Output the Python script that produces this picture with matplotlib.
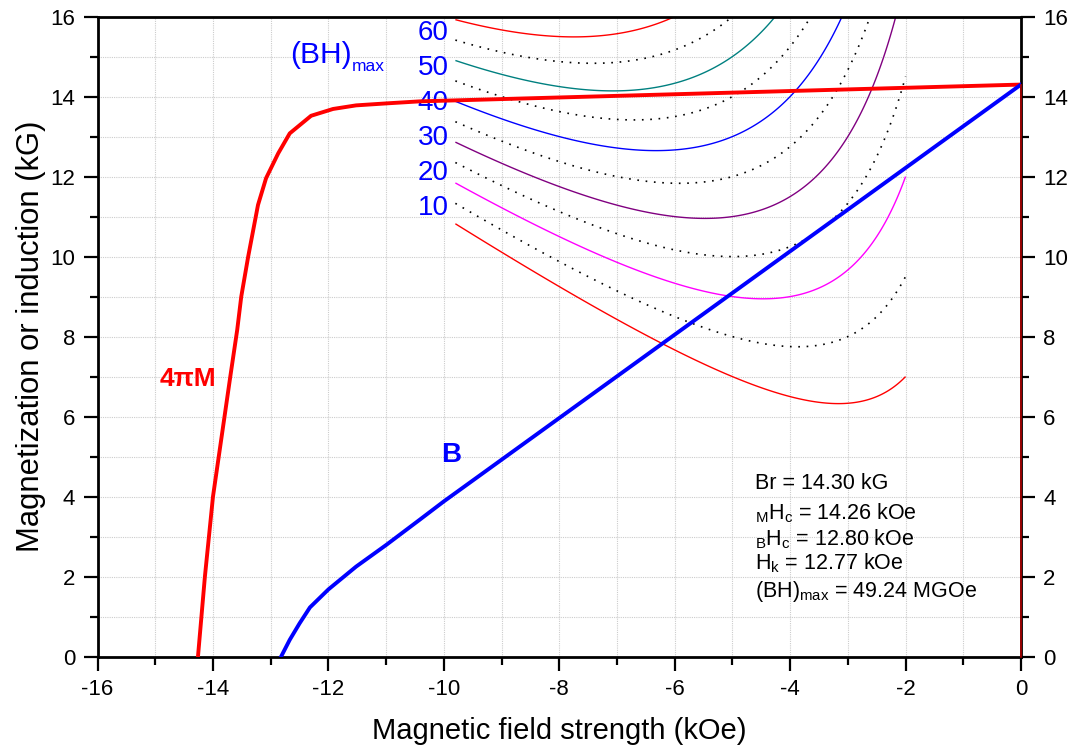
import numpy as np
import matplotlib.pyplot as plt
from matplotlib.ticker import MultipleLocator

plt.rcParams['font.family'] = ['Liberation Sans', 'DejaVu Sans']
plt.rcParams['mathtext.fontset'] = 'custom'
plt.rcParams['mathtext.rm'] = 'Liberation Sans'
plt.rcParams['mathtext.it'] = 'Liberation Sans'
plt.rcParams['axes.unicode_minus'] = False

# 4piM demagnetisation curve (H in kOe, 4piM in kG)
h_m = [-14.26, -14.14, -14.0, -13.90, -13.70, -13.58, -13.51, -13.39, -13.22, -13.08,
       -12.87, -12.67, -12.30, -11.92, -11.52, -10.99, -10.42, 0.0]
m_4pi = [0.0, 2.0, 4.0, 5.0, 7.0, 8.17, 9.0, 10.0, 11.29, 11.96,
         12.58, 13.08, 13.52, 13.69, 13.78, 13.83, 13.88, 14.30]

# B curve
h_b = [-12.82, -12.67, -12.50, -12.32, -12.0, -11.52, -11.0, -10.42, -10.0, 0.0]
b_ind = [0.0, 0.42, 0.83, 1.23, 1.68, 2.25, 2.79, 3.42, 3.88, 14.30]

# constant (BH) lines, MGOe
bh_solid = [10, 20, 30, 40, 50, 60]
bh_solid_colors = ['red', 'magenta', 'purple', 'blue', 'teal', 'red']
bh_dotted = [15, 25, 35, 45, 55]
bh_h_range = (-9.8, -2.0)

summary = ['Br = 14.30 kG',
           r'${}_{\mathrm{M}}\mathrm{H}_{\mathrm{c}}$ = 14.26 kOe',
           r'${}_{\mathrm{B}}\mathrm{H}_{\mathrm{c}}$ = 12.80 kOe',
           r'$\mathrm{H}_{\mathrm{k}}$ = 12.77 kOe',
           r'$\mathrm{(BH)}_{\mathrm{max}}$ = 49.24 MGOe']
summary_y = [4.19, 3.44, 2.79, 2.17, 1.49]

fig = plt.figure(figsize=(10.72, 7.53), dpi=100)
ax = fig.add_axes([0.091, 0.128, 0.8614, 0.85])

# energy product field: -H * B with B = H + 4piM
hh, mm = np.meshgrid(np.linspace(bh_h_range[0], bh_h_range[1], 400), np.linspace(0, 16, 800))
energy = -hh * (mm + hh)
ax.contour(hh, mm, energy, levels=bh_dotted, colors='black', linewidths=1.2,
           linestyles=[(0, (1, 4))])
ax.contour(hh, mm, energy, levels=bh_solid, colors=bh_solid_colors, linewidths=1.0)

ax.plot(h_m, m_4pi, color='red', lw=2.8, zorder=5)
ax.plot(h_b, b_ind, color='blue', lw=2.8, zorder=5)
ax.plot([0, 0], [0, m_4pi[-1]], color='#b00000', lw=1.2, zorder=6, clip_on=False)

ax.set_xlim(-16, 0)
ax.set_ylim(0, 16)
ax.xaxis.set_major_locator(MultipleLocator(2))
ax.xaxis.set_minor_locator(MultipleLocator(1))
ax.yaxis.set_major_locator(MultipleLocator(2))
ax.yaxis.set_minor_locator(MultipleLocator(1))
ax.grid(which='both', color='#cccccc', linestyle=(0, (1, 1)), linewidth=0.8)
ax.set_axisbelow(True)
ax.tick_params(which='both', direction='out', width=1.6, labelsize=16, pad=6,
               left=True, right=True, labelright=True, top=False)
ax.tick_params(which='major', length=10)
ax.tick_params(which='minor', length=6)
for s in ax.spines.values():
    s.set_linewidth(2)

ax.set_xlabel('Magnetic field strength (kOe)', fontsize=21, labelpad=12)
ax.set_ylabel('Magnetization or induction (kG)', fontsize=22.3, labelpad=3)

# labels for the (BH) lines
for val in bh_solid:
    ax.text(-9.92, 11.22 + (val - 10) * 0.0875, str(val), color='blue', fontsize=20,
            ha='right', va='center')
ax.text(-12.67, 14.835, '(BH)', color='blue', fontsize=21.5, va='baseline')
ax.text(-11.60, 14.65, 'max', color='blue', fontsize=12.5, va='baseline')

ax.text(-14.93, 6.95, '4πM', color='red', fontsize=19, fontweight='bold', va='center')
ax.text(-10.05, 5.05, 'B', color='blue', fontsize=20, fontweight='bold', va='center')

for line, y in zip(summary, summary_y):
    ax.text(-4.61, y, line, fontsize=15.5, va='baseline')

fig.savefig('out.png', dpi=100)
